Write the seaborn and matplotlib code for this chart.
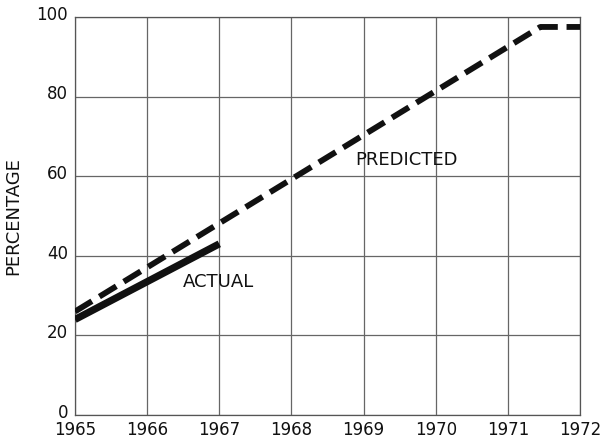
import matplotlib
matplotlib.use("Agg")
import matplotlib.pyplot as plt
import matplotlib.transforms as mtransforms
import seaborn as sns
import pandas as pd

# Data
pred_years = [1965.0, 1971.45, 1972.0]
pred_values = [26.0, 97.5, 97.5]
act_years = [1965.0, 1967.0]
act_values = [24.0, 43.0]
x_ticks = [1965, 1966, 1967, 1968, 1969, 1970, 1971, 1972]
y_ticks = [0, 20, 40, 60, 80, 100]

sns.set_style("white")
plt.rcParams['font.family'] = ['DejaVu Sans']

fig = plt.figure(figsize=(6.08, 4.40), dpi=100)
ax = fig.add_axes([75/608, 1-415/440, (580-75)/608, (415-17)/440])

pred = pd.DataFrame({"year": pred_years, "pct": pred_values})
act = pd.DataFrame({"year": act_years, "pct": act_values})

sns.lineplot(data=pred, x="year", y="pct", ax=ax, color="#111111", lw=4.2,
             linestyle=(0, (3.4, 1.5)), zorder=3)
sns.lineplot(data=act, x="year", y="pct", ax=ax, color="#111111", lw=5.2,
             solid_capstyle="butt", zorder=3)

ax.set_xlim(1965, 1972)
ax.set_ylim(0, 100)
ax.set_xticks(x_ticks)
ax.set_yticks(y_ticks)
ax.set_xticklabels([str(t) for t in x_ticks])
ax.grid(True, color="#666666", lw=0.9)
ax.tick_params(axis="both", length=0, labelsize=12, colors="#111111")
ax.tick_params(axis="x", pad=4)
ax.tick_params(axis="y", pad=5)
for s in ax.spines.values():
    s.set_color("#555555")
    s.set_linewidth(0.9)

# nudge y tick labels up slightly, as in the reference
offset = mtransforms.ScaledTranslation(0, 3/72, fig.dpi_scale_trans)
for lab in ax.get_yticklabels():
    lab.set_transform(lab.get_transform() + offset)

ax.set_xlabel("")
ax.set_ylabel("PERCENTAGE", fontsize=13, labelpad=10, color="#111111")

ax.text(1968.88, 64, "PREDICTED", fontsize=13, ha="left", va="center", color="#111111")
ax.text(1966.5, 33.5, "ACTUAL", fontsize=13, ha="left", va="center", color="#111111")

fig.savefig("out.png", dpi=100)
